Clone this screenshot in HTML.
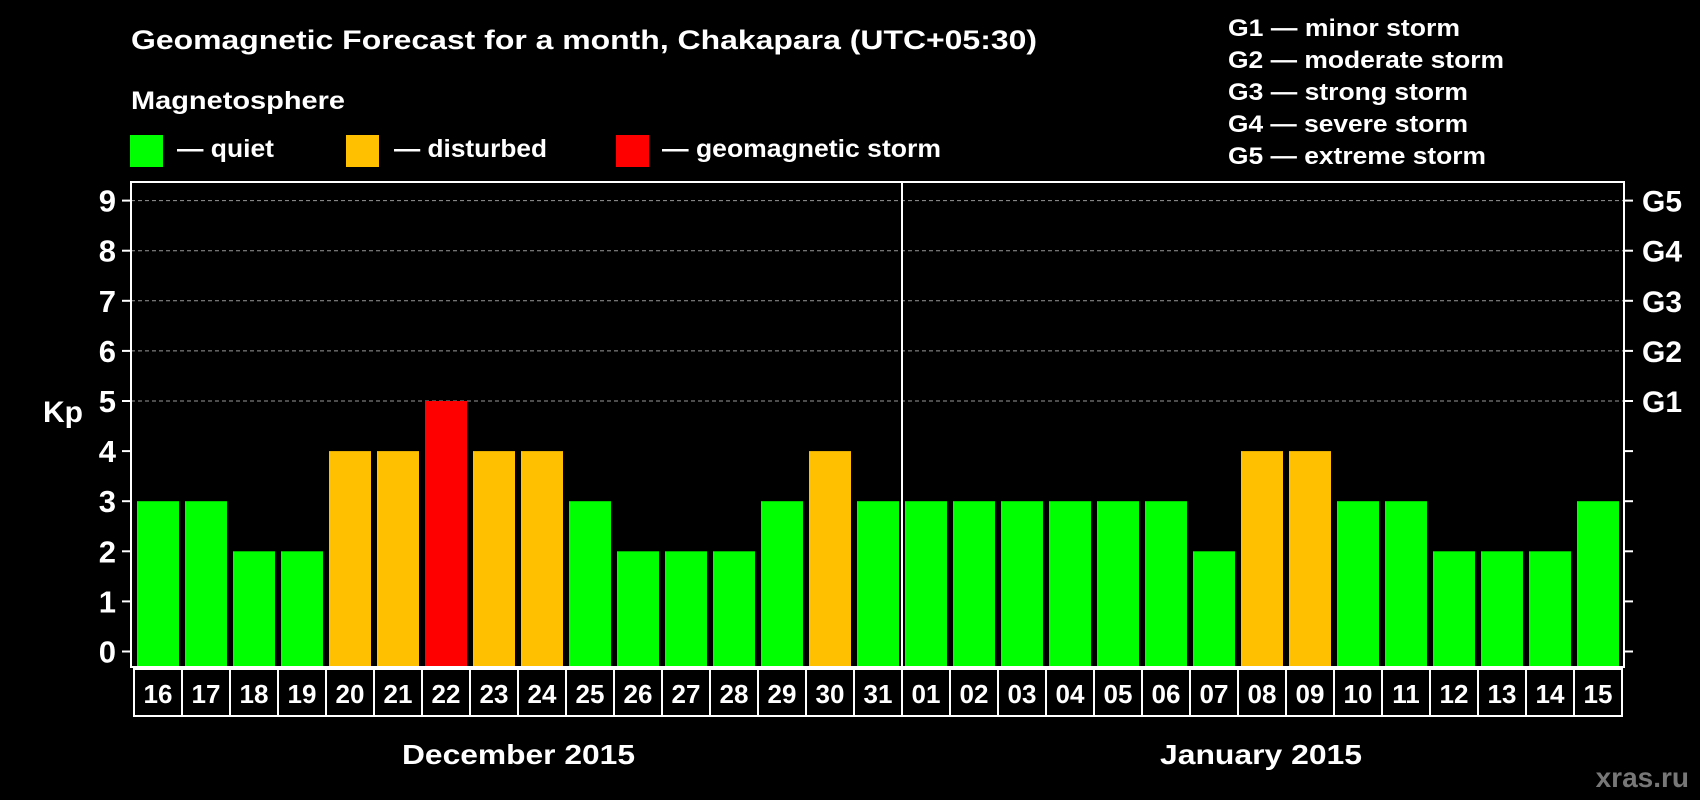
<!DOCTYPE html>
<html><head><meta charset="utf-8"><style>
html,body{margin:0;padding:0;background:#000;}
svg{display:block;font-family:"Liberation Sans",sans-serif;font-weight:bold;}
</style></head><body>
<svg id="chart" width="1700" height="800" viewBox="0 0 1700 800" xmlns="http://www.w3.org/2000/svg">
<rect width="1700" height="800" fill="#000"/>
<text x="131" y="49" fill="#fff" font-size="27" textLength="906" lengthAdjust="spacingAndGlyphs">Geomagnetic Forecast for a month, Chakapara (UTC+05:30)</text>
<text x="131" y="109" fill="#fff" font-size="25" textLength="214" lengthAdjust="spacingAndGlyphs">Magnetosphere</text>
<g>
<rect x="130" y="135" width="33" height="32" fill="#00ff00"/>
<text x="177" y="157" fill="#fff" font-size="25" textLength="97" lengthAdjust="spacingAndGlyphs">— quiet</text></g>
<g>
<rect x="346" y="135" width="33" height="32" fill="#ffc000"/>
<text x="394" y="157" fill="#fff" font-size="25" textLength="153" lengthAdjust="spacingAndGlyphs">— disturbed</text></g>
<g>
<rect x="616" y="135" width="33" height="32" fill="#ff0000"/>
<text x="662" y="157" fill="#fff" font-size="25" textLength="279" lengthAdjust="spacingAndGlyphs">— geomagnetic storm</text></g>
<g fill="#fff" font-size="24">
<text x="1228" y="36" textLength="232" lengthAdjust="spacingAndGlyphs">G1 — minor storm</text>
<text x="1228" y="68" textLength="276" lengthAdjust="spacingAndGlyphs">G2 — moderate storm</text>
<text x="1228" y="100" textLength="240" lengthAdjust="spacingAndGlyphs">G3 — strong storm</text>
<text x="1228" y="132" textLength="240" lengthAdjust="spacingAndGlyphs">G4 — severe storm</text>
<text x="1228" y="164" textLength="258" lengthAdjust="spacingAndGlyphs">G5 — extreme storm</text>
</g>
<g id="plot"></g>
<text x="402" y="764" fill="#fff" font-size="28" textLength="233" lengthAdjust="spacingAndGlyphs">December 2015</text>
<text x="1160" y="764" fill="#fff" font-size="28" textLength="202" lengthAdjust="spacingAndGlyphs">January 2015</text>
<text x="63" y="422" fill="#fff" font-size="30" text-anchor="middle">Kp</text>
<text x="1689" y="787" fill="#777" font-size="28" text-anchor="end">xras.ru</text>
</svg>
<script>
const days = ["16","17","18","19","20","21","22","23","24","25","26","27","28","29","30","31","01","02","03","04","05","06","07","08","09","10","11","12","13","14","15"];
const kpValues = [3,3,2,2,4,4,5,4,4,3,2,2,2,3,4,3,3,3,3,3,3,3,2,4,4,3,3,2,2,2,3];
const yTicks = [0,1,2,3,4,5,6,7,8,9];
const gLabels = ["G1","G2","G3","G4","G5"];
const gLevels = [5,6,7,8,9];

const NS = "http://www.w3.org/2000/svg";
const g = document.getElementById('plot');
const L = 131, R = 1624, T = 182, B = 667;
const y = v => 651.5 - 50.1 * v;
const x = i => 137 + 48 * i;
function mk(tag, attrs, parent) {
  const e = document.createElementNS(NS, tag);
  for (const k in attrs) e.setAttribute(k, attrs[k]);
  (parent || g).appendChild(e);
  return e;
}
yTicks.forEach(v => {
  if (v >= 5) {
    const l = mk('line', {x1: L, x2: R, y1: y(v), y2: y(v), stroke: '#999', 'stroke-width': 1, 'stroke-dasharray': '4,3'});
    
    
  }
  const tl = mk('line', {x1: L - 9, x2: L, y1: y(v), y2: y(v), stroke: '#fff', 'stroke-width': 2});
  
  
  const tr = mk('line', {x1: R, x2: R + 9, y1: y(v), y2: y(v), stroke: '#fff', 'stroke-width': 2});
  
  
  const t = mk('text', {x: 116, y: y(v) + 11, fill: '#fff', 'font-size': 31, 'text-anchor': 'end'});
  t.textContent = v;
  
  
});
gLabels.forEach((lab, i) => {
  const t = mk('text', {x: 1642, y: y(gLevels[i]) + 11, fill: '#fff', 'font-size': 30});
  t.textContent = lab;
  
  
});
kpValues.forEach((v, i) => {
  const col = v >= 5 ? '#ff0000' : (v >= 4 ? '#ffc000' : '#00ff00');
  const b = mk('rect', {x: x(i), y: y(v), width: 42, height: B - y(v), fill: col});
  
  
  const c = mk('rect', {x: x(i) - 3, y: 669, width: 48, height: 47, fill: 'none', stroke: '#fff', 'stroke-width': 2});
  
  
  const t = mk('text', {x: x(i) + 21, y: 703, fill: '#fff', 'font-size': 26, 'text-anchor': 'middle'});
  t.textContent = days[i];
  
  
});
const f = mk('rect', {x: L, y: T, width: R - L, height: B - T, fill: 'none', stroke: '#fff', 'stroke-width': 2});


const d = mk('line', {x1: x(16) - 3, x2: x(16) - 3, y1: T, y2: B, stroke: '#fff', 'stroke-width': 2});


</script>
</body></html>
